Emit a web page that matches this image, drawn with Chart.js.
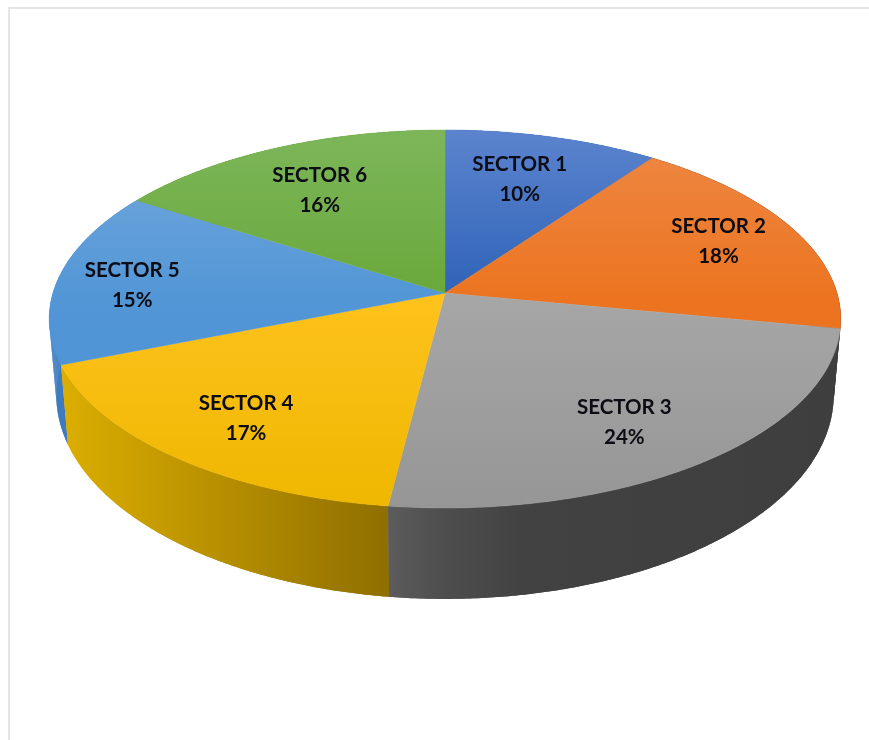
<!DOCTYPE html>
<html>
<head>
<meta charset="utf-8">
<script src="https://cdn.jsdelivr.net/npm/chart.js@4"></script>
<style>
html,body{margin:0;padding:0;background:#fff;overflow:hidden}
#wrap{position:relative;width:869px;height:740px}
#frame{position:absolute;left:8px;top:7px;right:0;bottom:0;border-left:2px solid #e6e6e6;border-top:2px solid #e6e6e6}
canvas{position:absolute;left:0;top:0}
</style>
</head>
<body>
<div id="wrap"><div id="frame"></div><canvas id="c" width="869" height="740"></canvas></div>
<script>
const categories = ['SECTOR 1','SECTOR 2','SECTOR 3','SECTOR 4','SECTOR 5','SECTOR 6'];
const values = [10,18,24,17,15,16];
const faceLight = ['#5c84ce','#ee8845','#aeaeae','#ffcb50','#75a9dd','#7db65a'];
const faceMid   = ['#2d62b7','#ec7420','#a6a6a6','#fec21c','#5296d6','#69a83a'];
const faceDark  = ['#2d62b7','#ea6f1e','#969696','#eeb700','#4a90d5','#69a83a'];
const wallLeft  = ['#2a5ba8','#3e3e3e','#5c5c5c','#dcae00','#3f7dc0','#5d9636'];
const wallRight = ['#2a5ba8','#3e3e3e','#3e3e3e','#8f6f00','#3671b5','#5d9636'];
const labelRadius = [.71,.78,.76,.77,.81,.69];
const labelNudge = [[-4,1],[0,0],[-12,5],[3,2],[0,6],[-5,1]];

const persp = {cx:445, cy:293, top:{a:185.4,c:392,dy:0}, low:{a:200,c:385,dy:74}, b:.1376};
function project(angle, r, rim){
  const u=r*Math.cos(angle), v=r*Math.sin(angle), d=1-persp.b*v;
  return {x:persp.cx+rim.c*u/d, y:persp.cy+rim.dy+rim.a*v/d};
}
const STEP=Math.PI/360;
function angles(a0,a1){const o=[];for(let a=a0;a<a1;a+=STEP)o.push(a);o.push(a1);return o;}

const pie3d = {
  id:'pie3d',
  beforeDatasetsDraw(chart){
    const ctx=chart.ctx, arcs=chart.getDatasetMeta(0).data;
    const order=arcs.map((e,i)=>i).sort((p,q)=>
      Math.sin((arcs[p].startAngle+arcs[p].endAngle)/2)-Math.sin((arcs[q].startAngle+arcs[q].endAngle)/2));
    // side walls
    order.forEach(i=>{
      const e=arcs[i], as=angles(e.startAngle,e.endAngle);
      const xs=as.map(a=>project(a,1,persp.top).x);
      const g=ctx.createLinearGradient(Math.min(...xs),0,Math.max(...xs),0);
      g.addColorStop(0,wallLeft[i]);
      if(i===2){g.addColorStop(.12,'#4e4e4e');g.addColorStop(.3,'#424242');}
      g.addColorStop(1,wallRight[i]);
      ctx.fillStyle=g;
      ctx.beginPath();
      as.forEach((a,k)=>{const p=project(a,1,persp.top);k?ctx.lineTo(p.x,p.y):ctx.moveTo(p.x,p.y);});
      as.slice().reverse().forEach(a=>{const p=project(a,1,persp.low);ctx.lineTo(p.x,p.y);});
      ctx.closePath();ctx.fill();
      // strips fill out the silhouette between the two rims
      for(let k=0;k<as.length-1;k++){
        const a=project(as[k],1,persp.top),b=project(as[k+1],1,persp.top),
              c=project(as[k+1],1,persp.low),d=project(as[k],1,persp.low);
        ctx.beginPath();ctx.moveTo(a.x,a.y);ctx.lineTo(b.x,b.y);ctx.lineTo(c.x,c.y);ctx.lineTo(d.x,d.y);ctx.closePath();
        ctx.fill();
      }
    });
    // top faces
    arcs.forEach((e,i)=>{
      const g=ctx.createLinearGradient(0,130,0,507);
      g.addColorStop(0,faceLight[i]);g.addColorStop(.45,faceMid[i]);g.addColorStop(1,faceDark[i]);
      ctx.fillStyle=g;ctx.strokeStyle=g;ctx.lineWidth=.5;
      ctx.beginPath();ctx.moveTo(persp.cx,persp.cy);
      angles(e.startAngle,e.endAngle).forEach(a=>{const p=project(a,1,persp.top);ctx.lineTo(p.x,p.y);});
      ctx.closePath();ctx.fill();ctx.stroke();
    });
    // labels
    const total=values.reduce((s,v)=>s+v,0);
    ctx.font='bold 20.5px Lato';ctx.textAlign='center';ctx.textBaseline='middle';ctx.fillStyle='#0c0c14';
    arcs.forEach((e,i)=>{
      const p=project((e.startAngle+e.endAngle)/2,labelRadius[i],persp.top);
      const x=p.x+labelNudge[i][0], y=p.y+labelNudge[i][1];
      ctx.fillText(categories[i],x,y-15);
      ctx.fillText(Math.round(values[i]/total*100)+'%',x,y+15);
    });
    return false;
  }
};

new Chart(document.getElementById('c'),{
  type:'pie',
  data:{labels:categories,datasets:[{data:values,backgroundColor:faceMid,borderWidth:0}]},
  options:{responsive:false,animation:false,events:[],plugins:{legend:{display:false},tooltip:{enabled:false}}},
  plugins:[pie3d]
});
</script>
</body>
</html>
